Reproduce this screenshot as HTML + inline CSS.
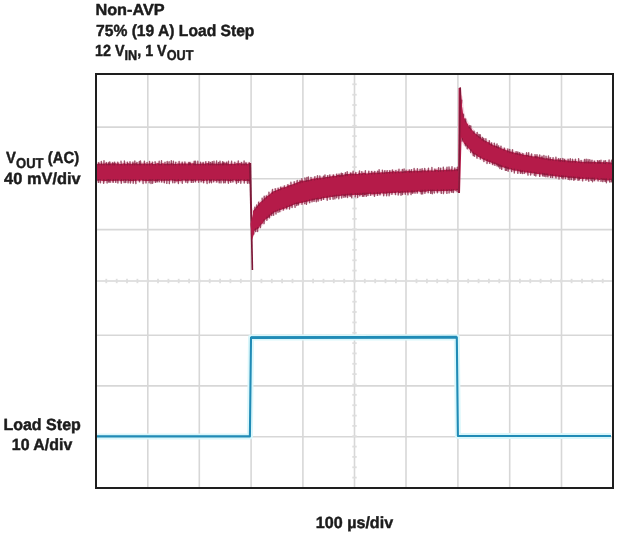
<!DOCTYPE html>
<html><head><meta charset="utf-8"><title>Non-AVP load step</title>
<style>html,body{margin:0;padding:0;background:#fff;width:618px;height:535px;overflow:hidden}svg{display:block;filter:blur(0.35px)}text{font-family:"Liberation Sans",sans-serif;font-weight:bold;text-rendering:geometricPrecision}</style>
</head><body><svg width="618" height="535" viewBox="0 0 618 535"><g stroke="#d7d7d7" stroke-width="1.6"><line x1="147.8" y1="75" x2="147.8" y2="487" /><line x1="199.3" y1="75" x2="199.3" y2="487" /><line x1="251.1" y1="75" x2="251.1" y2="487" /><line x1="302.9" y1="75" x2="302.9" y2="487" /><line x1="354.5" y1="75" x2="354.5" y2="487" /><line x1="406.0" y1="75" x2="406.0" y2="487" /><line x1="457.9" y1="75" x2="457.9" y2="487" /><line x1="509.7" y1="75" x2="509.7" y2="487" /><line x1="561.5" y1="75" x2="561.5" y2="487" /><line x1="97" y1="127.1" x2="612" y2="127.1" /><line x1="97" y1="178.7" x2="612" y2="178.7" /><line x1="97" y1="229.6" x2="612" y2="229.6" /><line x1="97" y1="281.0" x2="612" y2="281.0" /><line x1="97" y1="335.3" x2="612" y2="335.3" /><line x1="97" y1="385.9" x2="612" y2="385.9" /><line x1="97" y1="436.8" x2="612" y2="436.8" /></g><g stroke="#dedede" stroke-width="1.8"><line x1="106.3" y1="278.8" x2="106.3" y2="283.2"/><line x1="116.7" y1="278.8" x2="116.7" y2="283.2"/><line x1="127.0" y1="278.8" x2="127.0" y2="283.2"/><line x1="137.4" y1="278.8" x2="137.4" y2="283.2"/><line x1="147.7" y1="278.8" x2="147.7" y2="283.2"/><line x1="158.0" y1="278.8" x2="158.0" y2="283.2"/><line x1="168.4" y1="278.8" x2="168.4" y2="283.2"/><line x1="178.7" y1="278.8" x2="178.7" y2="283.2"/><line x1="189.1" y1="278.8" x2="189.1" y2="283.2"/><line x1="199.4" y1="278.8" x2="199.4" y2="283.2"/><line x1="209.7" y1="278.8" x2="209.7" y2="283.2"/><line x1="220.1" y1="278.8" x2="220.1" y2="283.2"/><line x1="230.4" y1="278.8" x2="230.4" y2="283.2"/><line x1="240.8" y1="278.8" x2="240.8" y2="283.2"/><line x1="251.1" y1="278.8" x2="251.1" y2="283.2"/><line x1="261.4" y1="278.8" x2="261.4" y2="283.2"/><line x1="271.8" y1="278.8" x2="271.8" y2="283.2"/><line x1="282.1" y1="278.8" x2="282.1" y2="283.2"/><line x1="292.5" y1="278.8" x2="292.5" y2="283.2"/><line x1="302.8" y1="278.8" x2="302.8" y2="283.2"/><line x1="313.1" y1="278.8" x2="313.1" y2="283.2"/><line x1="323.5" y1="278.8" x2="323.5" y2="283.2"/><line x1="333.8" y1="278.8" x2="333.8" y2="283.2"/><line x1="344.2" y1="278.8" x2="344.2" y2="283.2"/><line x1="354.5" y1="278.8" x2="354.5" y2="283.2"/><line x1="364.8" y1="278.8" x2="364.8" y2="283.2"/><line x1="375.2" y1="278.8" x2="375.2" y2="283.2"/><line x1="385.5" y1="278.8" x2="385.5" y2="283.2"/><line x1="395.9" y1="278.8" x2="395.9" y2="283.2"/><line x1="406.2" y1="278.8" x2="406.2" y2="283.2"/><line x1="416.5" y1="278.8" x2="416.5" y2="283.2"/><line x1="426.9" y1="278.8" x2="426.9" y2="283.2"/><line x1="437.2" y1="278.8" x2="437.2" y2="283.2"/><line x1="447.6" y1="278.8" x2="447.6" y2="283.2"/><line x1="457.9" y1="278.8" x2="457.9" y2="283.2"/><line x1="468.2" y1="278.8" x2="468.2" y2="283.2"/><line x1="478.6" y1="278.8" x2="478.6" y2="283.2"/><line x1="488.9" y1="278.8" x2="488.9" y2="283.2"/><line x1="499.3" y1="278.8" x2="499.3" y2="283.2"/><line x1="509.6" y1="278.8" x2="509.6" y2="283.2"/><line x1="519.9" y1="278.8" x2="519.9" y2="283.2"/><line x1="530.3" y1="278.8" x2="530.3" y2="283.2"/><line x1="540.6" y1="278.8" x2="540.6" y2="283.2"/><line x1="551.0" y1="278.8" x2="551.0" y2="283.2"/><line x1="561.3" y1="278.8" x2="561.3" y2="283.2"/><line x1="571.6" y1="278.8" x2="571.6" y2="283.2"/><line x1="582.0" y1="278.8" x2="582.0" y2="283.2"/><line x1="592.3" y1="278.8" x2="592.3" y2="283.2"/><line x1="602.7" y1="278.8" x2="602.7" y2="283.2"/><line x1="352.3" y1="84.3" x2="356.7" y2="84.3"/><line x1="352.3" y1="94.7" x2="356.7" y2="94.7"/><line x1="352.3" y1="105.0" x2="356.7" y2="105.0"/><line x1="352.3" y1="115.4" x2="356.7" y2="115.4"/><line x1="352.3" y1="125.8" x2="356.7" y2="125.8"/><line x1="352.3" y1="136.1" x2="356.7" y2="136.1"/><line x1="352.3" y1="146.4" x2="356.7" y2="146.4"/><line x1="352.3" y1="156.8" x2="356.7" y2="156.8"/><line x1="352.3" y1="167.1" x2="356.7" y2="167.1"/><line x1="352.3" y1="177.5" x2="356.7" y2="177.5"/><line x1="352.3" y1="187.8" x2="356.7" y2="187.8"/><line x1="352.3" y1="198.2" x2="356.7" y2="198.2"/><line x1="352.3" y1="208.5" x2="356.7" y2="208.5"/><line x1="352.3" y1="218.9" x2="356.7" y2="218.9"/><line x1="352.3" y1="229.2" x2="356.7" y2="229.2"/><line x1="352.3" y1="239.6" x2="356.7" y2="239.6"/><line x1="352.3" y1="249.9" x2="356.7" y2="249.9"/><line x1="352.3" y1="260.3" x2="356.7" y2="260.3"/><line x1="352.3" y1="270.6" x2="356.7" y2="270.6"/><line x1="352.3" y1="281.0" x2="356.7" y2="281.0"/><line x1="352.3" y1="291.4" x2="356.7" y2="291.4"/><line x1="352.3" y1="301.7" x2="356.7" y2="301.7"/><line x1="352.3" y1="312.0" x2="356.7" y2="312.0"/><line x1="352.3" y1="322.4" x2="356.7" y2="322.4"/><line x1="352.3" y1="332.8" x2="356.7" y2="332.8"/><line x1="352.3" y1="343.1" x2="356.7" y2="343.1"/><line x1="352.3" y1="353.4" x2="356.7" y2="353.4"/><line x1="352.3" y1="363.8" x2="356.7" y2="363.8"/><line x1="352.3" y1="374.1" x2="356.7" y2="374.1"/><line x1="352.3" y1="384.5" x2="356.7" y2="384.5"/><line x1="352.3" y1="394.8" x2="356.7" y2="394.8"/><line x1="352.3" y1="405.2" x2="356.7" y2="405.2"/><line x1="352.3" y1="415.6" x2="356.7" y2="415.6"/><line x1="352.3" y1="425.9" x2="356.7" y2="425.9"/><line x1="352.3" y1="436.2" x2="356.7" y2="436.2"/><line x1="352.3" y1="446.6" x2="356.7" y2="446.6"/><line x1="352.3" y1="456.9" x2="356.7" y2="456.9"/><line x1="352.3" y1="467.3" x2="356.7" y2="467.3"/><line x1="352.3" y1="477.6" x2="356.7" y2="477.6"/></g><g fill="#f6d8e2" stroke="#f6d8e2" stroke-width="3.2" stroke-linejoin="round"><path d="M97.0 163.5L98.0 164.0L99.0 163.1L100.0 163.9L101.0 163.3L102.0 163.4L103.0 163.8L104.0 163.4L105.0 163.5L106.0 163.0L107.0 163.8L108.0 163.5L109.0 163.3L110.0 163.8L111.0 163.3L112.0 163.5L113.0 163.1L114.0 163.4L115.0 163.2L116.0 163.3L117.0 163.8L118.0 163.3L119.0 163.5L120.0 164.0L121.0 164.0L122.0 163.7L123.0 163.5L124.0 163.3L125.0 163.2L126.0 164.0L127.0 163.5L128.0 163.1L129.0 163.6L130.0 163.8L131.0 163.6L132.0 163.9L133.0 163.0L134.0 163.5L135.0 163.5L136.0 163.1L137.0 163.6L138.0 163.9L139.0 163.6L140.0 163.3L141.0 163.8L142.0 163.5L143.0 163.5L144.0 163.8L145.0 163.1L146.0 163.8L147.0 163.7L148.0 163.8L149.0 163.2L150.0 163.8L151.0 163.2L152.0 163.1L153.0 163.9L154.0 163.9L155.0 163.9L156.0 163.5L157.0 163.3L158.0 163.0L159.0 163.6L160.0 163.7L161.0 163.8L162.0 163.3L163.0 163.2L164.0 163.6L165.0 163.8L166.0 164.0L167.0 163.2L168.0 163.5L169.0 163.9L170.0 163.4L171.0 163.6L172.0 163.0L173.0 163.7L174.0 163.9L175.0 163.8L176.0 163.9L177.0 163.7L178.0 163.2L179.0 163.8L180.0 163.2L181.0 163.8L182.0 163.1L183.0 163.8L184.0 163.2L185.0 163.4L186.0 163.3L187.0 163.7L188.0 163.2L189.0 163.4L190.0 163.0L191.0 163.3L192.0 163.4L193.0 163.1L194.0 163.6L195.0 163.4L196.0 163.7L197.0 163.7L198.0 163.4L199.0 163.9L200.0 163.6L201.0 163.8L202.0 163.3L203.0 163.5L204.0 163.2L205.0 164.0L206.0 163.2L207.0 163.3L208.0 163.1L209.0 163.3L210.0 163.8L211.0 163.7L212.0 163.1L213.0 163.4L214.0 163.4L215.0 163.7L216.0 163.5L217.0 163.6L218.0 163.8L219.0 163.7L220.0 163.4L221.0 163.4L222.0 163.4L223.0 163.1L224.0 163.2L225.0 163.3L226.0 163.3L227.0 163.3L228.0 163.6L229.0 164.0L230.0 163.8L231.0 163.8L232.0 163.8L233.0 163.6L234.0 163.9L235.0 163.7L236.0 163.5L237.0 163.1L238.0 163.5L239.0 163.2L240.0 163.1L241.0 163.5L242.0 163.8L243.0 163.3L244.0 163.8L245.0 163.5L246.0 163.1L247.0 164.0L248.0 163.4L249.0 163.3L250.0 163.8L250.0 180.9L249.0 181.4L248.0 181.0L247.0 180.8L246.0 180.9L245.0 181.0L244.0 181.0L243.0 180.7L242.0 180.6L241.0 180.5L240.0 181.2L239.0 180.7L238.0 181.3L237.0 181.0L236.0 181.4L235.0 180.5L234.0 180.4L233.0 180.6L232.0 181.1L231.0 181.1L230.0 181.3L229.0 181.2L228.0 181.2L227.0 180.4L226.0 181.0L225.0 181.0L224.0 180.5L223.0 180.9L222.0 180.5L221.0 180.5L220.0 181.0L219.0 181.3L218.0 180.5L217.0 180.8L216.0 181.3L215.0 180.7L214.0 180.8L213.0 180.5L212.0 180.7L211.0 181.2L210.0 181.4L209.0 180.5L208.0 180.5L207.0 181.2L206.0 180.4L205.0 180.7L204.0 181.3L203.0 180.9L202.0 180.8L201.0 180.6L200.0 180.5L199.0 180.4L198.0 180.8L197.0 180.6L196.0 181.1L195.0 180.8L194.0 180.4L193.0 181.0L192.0 181.1L191.0 181.1L190.0 180.5L189.0 180.7L188.0 180.7L187.0 180.7L186.0 181.0L185.0 180.5L184.0 180.8L183.0 180.5L182.0 180.4L181.0 181.3L180.0 181.2L179.0 181.1L178.0 181.2L177.0 181.4L176.0 181.4L175.0 180.9L174.0 180.9L173.0 180.6L172.0 180.6L171.0 180.4L170.0 180.5L169.0 180.7L168.0 181.1L167.0 180.5L166.0 180.9L165.0 180.6L164.0 181.4L163.0 180.6L162.0 181.0L161.0 181.1L160.0 180.6L159.0 180.4L158.0 181.0L157.0 180.9L156.0 181.2L155.0 180.9L154.0 181.4L153.0 180.5L152.0 180.7L151.0 181.2L150.0 180.7L149.0 181.0L148.0 181.1L147.0 181.3L146.0 181.0L145.0 181.2L144.0 180.8L143.0 181.0L142.0 180.6L141.0 180.5L140.0 180.9L139.0 180.8L138.0 180.8L137.0 180.4L136.0 181.2L135.0 180.8L134.0 181.0L133.0 181.2L132.0 181.0L131.0 181.2L130.0 180.7L129.0 181.4L128.0 180.7L127.0 180.4L126.0 181.3L125.0 180.6L124.0 180.8L123.0 181.1L122.0 180.7L121.0 181.4L120.0 180.9L119.0 180.4L118.0 180.9L117.0 180.8L116.0 180.8L115.0 181.0L114.0 180.8L113.0 181.2L112.0 181.4L111.0 180.6L110.0 181.3L109.0 180.8L108.0 180.7L107.0 180.9L106.0 181.1L105.0 181.0L104.0 181.4L103.0 180.8L102.0 181.2L101.0 180.6L100.0 180.8L99.0 180.6L98.0 181.1L97.0 180.5Z"/><path d="M253.0 211.1L254.0 209.8L255.0 209.0L256.0 207.0L257.0 206.2L258.0 205.0L259.0 203.5L260.0 202.4L261.0 201.6L262.0 201.0L263.0 199.9L264.0 198.5L265.0 197.7L266.0 197.2L267.0 196.1L268.0 195.5L269.0 195.1L270.0 194.0L271.0 192.9L272.0 191.9L273.0 191.4L274.0 191.1L275.0 191.0L276.0 190.4L277.0 189.5L278.0 189.7L279.0 188.9L280.0 188.8L281.0 187.8L282.0 187.5L283.0 187.2L284.0 187.5L285.0 186.9L286.0 186.8L287.0 186.2L288.0 185.6L289.0 185.3L290.0 185.0L291.0 184.9L292.0 184.2L293.0 184.2L294.0 183.6L295.0 183.5L296.0 182.8L297.0 182.7L298.0 182.0L299.0 181.8L300.0 181.2L301.0 180.7L302.0 180.3L303.0 180.8L304.0 180.4L305.0 180.7L306.0 180.4L307.0 179.8L308.0 180.2L309.0 179.7L310.0 179.7L311.0 179.1L312.0 178.7L313.0 178.6L314.0 178.4L315.0 178.7L316.0 178.0L317.0 177.8L318.0 178.5L319.0 177.6L320.0 177.8L321.0 177.7L322.0 177.6L323.0 177.4L324.0 177.7L325.0 177.3L326.0 177.0L327.0 176.9L328.0 176.6L329.0 176.9L330.0 176.0L331.0 176.4L332.0 176.1L333.0 175.5L334.0 175.6L335.0 176.1L336.0 175.9L337.0 175.0L338.0 175.1L339.0 174.7L340.0 175.4L341.0 174.6L342.0 174.4L343.0 175.2L344.0 174.6L345.0 174.3L346.0 173.9L347.0 174.1L348.0 174.0L349.0 174.0L350.0 173.4L351.0 173.5L352.0 173.5L353.0 173.7L354.0 173.5L355.0 173.7L356.0 173.4L357.0 173.9L358.0 173.9L359.0 173.0L360.0 173.1L361.0 173.4L362.0 173.5L363.0 172.8L364.0 172.8L365.0 173.0L366.0 173.2L367.0 173.4L368.0 173.3L369.0 173.2L370.0 172.4L371.0 173.2L372.0 172.8L373.0 172.2L374.0 172.4L375.0 172.7L376.0 172.4L377.0 172.4L378.0 172.7L379.0 172.7L380.0 172.3L381.0 172.5L382.0 172.1L383.0 172.6L384.0 172.2L385.0 172.5L386.0 171.5L387.0 172.3L388.0 171.9L389.0 172.0L390.0 171.4L391.0 171.8L392.0 171.5L393.0 171.2L394.0 171.1L395.0 172.0L396.0 171.7L397.0 171.2L398.0 171.2L399.0 171.4L400.0 171.7L401.0 170.9L402.0 171.8L403.0 171.7L404.0 171.0L405.0 171.3L406.0 171.0L407.0 171.3L408.0 170.6L409.0 171.0L410.0 171.1L411.0 171.1L412.0 171.1L413.0 171.3L414.0 170.6L415.0 170.4L416.0 170.6L417.0 170.8L418.0 171.1L419.0 170.8L420.0 170.8L421.0 171.0L422.0 170.3L423.0 170.2L424.0 170.4L425.0 170.2L426.0 170.5L427.0 170.8L428.0 169.9L429.0 170.3L430.0 170.4L431.0 170.2L432.0 170.6L433.0 170.4L434.0 170.5L435.0 169.7L436.0 169.7L437.0 169.6L438.0 170.3L439.0 170.4L440.0 169.4L441.0 170.2L442.0 170.1L443.0 170.2L444.0 169.5L445.0 170.0L446.0 169.4L447.0 169.2L448.0 169.9L449.0 169.2L450.0 169.8L451.0 169.3L452.0 169.5L453.0 169.9L454.0 169.2L455.0 169.4L456.0 169.2L457.0 169.0L458.0 169.3L458.5 169.0L458.5 190.9L458.0 190.3L457.0 190.3L456.0 191.0L455.0 190.6L454.0 190.4L453.0 190.5L452.0 190.9L451.0 191.4L450.0 190.9L449.0 190.5L448.0 191.1L447.0 191.1L446.0 191.2L445.0 190.8L444.0 191.5L443.0 190.9L442.0 191.1L441.0 191.0L440.0 191.5L439.0 190.9L438.0 191.5L437.0 191.6L436.0 191.3L435.0 190.9L434.0 191.3L433.0 191.0L432.0 191.0L431.0 191.7L430.0 190.9L429.0 191.1L428.0 190.9L427.0 191.6L426.0 191.7L425.0 192.0L424.0 191.5L423.0 191.7L422.0 192.0L421.0 192.2L420.0 192.1L419.0 191.6L418.0 191.6L417.0 192.3L416.0 191.7L415.0 191.8L414.0 192.5L413.0 192.5L412.0 192.5L411.0 192.4L410.0 192.5L409.0 192.5L408.0 192.7L407.0 192.2L406.0 192.9L405.0 192.4L404.0 192.6L403.0 192.9L402.0 192.5L401.0 192.7L400.0 193.0L399.0 193.2L398.0 192.6L397.0 192.6L396.0 193.1L395.0 192.9L394.0 192.9L393.0 192.8L392.0 193.3L391.0 192.9L390.0 193.5L389.0 193.4L388.0 193.0L387.0 193.8L386.0 193.4L385.0 193.9L384.0 193.2L383.0 193.9L382.0 193.3L381.0 193.6L380.0 194.2L379.0 193.7L378.0 194.2L377.0 193.7L376.0 194.2L375.0 194.4L374.0 194.2L373.0 194.4L372.0 194.5L371.0 194.2L370.0 193.8L369.0 194.1L368.0 194.2L367.0 194.3L366.0 194.8L365.0 194.9L364.0 194.9L363.0 194.2L362.0 194.9L361.0 195.1L360.0 194.7L359.0 194.9L358.0 194.9L357.0 195.1L356.0 194.9L355.0 194.8L354.0 195.1L353.0 195.2L352.0 195.1L351.0 195.6L350.0 195.6L349.0 195.4L348.0 195.6L347.0 195.4L346.0 195.5L345.0 195.9L344.0 196.1L343.0 195.5L342.0 195.7L341.0 195.8L340.0 196.2L339.0 195.9L338.0 196.6L337.0 196.3L336.0 196.2L335.0 196.7L334.0 196.6L333.0 197.1L332.0 196.9L331.0 197.0L330.0 196.8L329.0 197.8L328.0 197.4L327.0 198.2L326.0 197.7L325.0 198.1L324.0 198.1L323.0 198.5L322.0 198.2L321.0 199.2L320.0 198.9L319.0 199.6L318.0 199.7L317.0 199.4L316.0 199.3L315.0 199.7L314.0 200.3L313.0 200.2L312.0 200.8L311.0 200.4L310.0 200.9L309.0 201.0L308.0 201.8L307.0 201.5L306.0 201.9L305.0 202.1L304.0 202.1L303.0 203.0L302.0 202.8L301.0 203.1L300.0 203.2L299.0 203.6L298.0 204.2L297.0 203.9L296.0 204.0L295.0 204.2L294.0 204.7L293.0 204.9L292.0 205.8L291.0 206.5L290.0 206.2L289.0 207.0L288.0 207.1L287.0 208.1L286.0 208.2L285.0 208.4L284.0 208.9L283.0 209.0L282.0 209.6L281.0 210.1L280.0 209.9L279.0 210.4L278.0 210.8L277.0 211.4L276.0 211.7L275.0 212.1L274.0 212.7L273.0 213.4L272.0 214.2L271.0 214.7L270.0 216.4L269.0 217.2L268.0 218.1L267.0 218.6L266.0 219.3L265.0 219.9L264.0 221.1L263.0 223.1L262.0 224.2L261.0 224.6L260.0 226.0L259.0 227.7L258.0 228.9L257.0 229.1L256.0 230.4L255.0 230.3L254.0 231.2L253.0 232.0Z"/><path d="M461.0 96.9L462.0 106.4L463.0 113.5L464.0 117.2L465.0 119.1L466.0 121.1L467.0 122.9L468.0 124.3L469.0 126.5L470.0 127.1L471.0 128.5L472.0 129.8L473.0 130.9L474.0 132.1L475.0 133.1L476.0 134.1L477.0 134.2L478.0 135.4L479.0 136.3L480.0 136.7L481.0 137.2L482.0 139.0L483.0 139.1L484.0 139.7L485.0 140.8L486.0 141.0L487.0 141.5L488.0 142.3L489.0 142.1L490.0 143.4L491.0 143.6L492.0 143.9L493.0 144.9L494.0 145.6L495.0 145.2L496.0 146.0L497.0 146.1L498.0 146.9L499.0 147.3L500.0 147.2L501.0 148.2L502.0 148.4L503.0 148.8L504.0 149.3L505.0 149.3L506.0 150.0L507.0 150.5L508.0 150.1L509.0 151.3L510.0 151.2L511.0 151.7L512.0 151.6L513.0 152.3L514.0 152.2L515.0 153.0L516.0 152.6L517.0 153.1L518.0 153.2L519.0 153.6L520.0 153.4L521.0 153.6L522.0 154.3L523.0 154.5L524.0 154.5L525.0 155.0L526.0 154.5L527.0 155.3L528.0 154.8L529.0 155.7L530.0 155.6L531.0 155.7L532.0 156.3L533.0 156.2L534.0 156.4L535.0 155.9L536.0 156.3L537.0 156.2L538.0 156.5L539.0 156.7L540.0 157.5L541.0 156.9L542.0 157.3L543.0 157.6L544.0 158.1L545.0 158.4L546.0 158.3L547.0 158.0L548.0 158.5L549.0 158.8L550.0 158.4L551.0 159.1L552.0 158.9L553.0 159.2L554.0 159.4L555.0 159.5L556.0 159.4L557.0 159.6L558.0 159.3L559.0 159.7L560.0 159.4L561.0 159.9L562.0 160.0L563.0 160.4L564.0 160.1L565.0 159.8L566.0 160.4L567.0 160.2L568.0 160.8L569.0 160.6L570.0 160.7L571.0 161.3L572.0 160.8L573.0 160.8L574.0 160.8L575.0 161.0L576.0 160.7L577.0 161.2L578.0 161.6L579.0 161.3L580.0 161.5L581.0 161.8L582.0 161.7L583.0 161.7L584.0 161.8L585.0 161.9L586.0 161.4L587.0 161.6L588.0 161.5L589.0 161.5L590.0 161.9L591.0 161.6L592.0 162.0L593.0 162.0L594.0 161.5L595.0 161.9L596.0 161.9L597.0 162.2L598.0 161.6L599.0 161.8L600.0 162.1L601.0 162.1L602.0 162.3L603.0 162.0L604.0 161.9L605.0 162.7L606.0 162.1L607.0 162.0L608.0 162.2L609.0 162.2L610.0 162.2L611.0 162.5L612.0 162.9L612.0 181.0L611.0 180.1L610.0 180.1L609.0 180.4L608.0 180.5L607.0 180.4L606.0 180.5L605.0 180.3L604.0 180.1L603.0 180.4L602.0 179.7L601.0 179.5L600.0 180.1L599.0 180.1L598.0 179.7L597.0 179.6L596.0 179.6L595.0 180.0L594.0 179.8L593.0 179.1L592.0 179.0L591.0 179.2L590.0 179.5L589.0 178.8L588.0 179.6L587.0 179.5L586.0 179.0L585.0 178.7L584.0 179.0L583.0 179.0L582.0 178.8L581.0 179.1L580.0 179.0L579.0 178.9L578.0 178.5L577.0 178.8L576.0 178.1L575.0 178.6L574.0 178.2L573.0 178.3L572.0 177.8L571.0 177.8L570.0 177.7L569.0 178.4L568.0 178.1L567.0 177.2L566.0 177.2L565.0 177.1L564.0 177.7L563.0 177.1L562.0 176.9L561.0 177.0L560.0 177.0L559.0 176.8L558.0 176.8L557.0 176.4L556.0 176.6L555.0 176.4L554.0 176.1L553.0 176.3L552.0 176.1L551.0 175.7L550.0 175.4L549.0 176.0L548.0 175.6L547.0 174.9L546.0 175.5L545.0 175.4L544.0 175.0L543.0 174.4L542.0 174.7L541.0 174.2L540.0 174.8L539.0 174.0L538.0 174.2L537.0 173.9L536.0 173.8L535.0 174.0L534.0 173.1L533.0 173.6L532.0 173.4L531.0 173.1L530.0 172.7L529.0 173.0L528.0 172.6L527.0 172.4L526.0 172.4L525.0 172.7L524.0 171.8L523.0 171.7L522.0 172.4L521.0 172.2L520.0 172.0L519.0 171.0L518.0 171.4L517.0 170.8L516.0 170.7L515.0 170.7L514.0 170.5L513.0 170.5L512.0 169.9L511.0 169.2L510.0 169.4L509.0 169.4L508.0 168.9L507.0 168.7L506.0 168.0L505.0 168.1L504.0 167.7L503.0 167.3L502.0 167.2L501.0 167.0L500.0 166.4L499.0 165.9L498.0 165.6L497.0 165.3L496.0 164.5L495.0 163.7L494.0 164.3L493.0 163.5L492.0 163.4L491.0 162.6L490.0 161.9L489.0 161.9L488.0 161.8L487.0 161.1L486.0 160.9L485.0 160.2L484.0 159.7L483.0 159.7L482.0 158.7L481.0 158.3L480.0 158.0L479.0 157.0L478.0 157.0L477.0 156.0L476.0 155.1L475.0 154.4L474.0 154.4L473.0 153.9L472.0 152.6L471.0 150.9L470.0 150.3L469.0 148.7L468.0 148.3L467.0 146.8L466.0 145.2L465.0 144.8L464.0 143.4L463.0 141.4L462.0 139.4L461.0 137.3Z"/></g><g fill="#b51b49"><path d="M97.0 163.5L98.0 164.0L99.0 163.1L100.0 163.9L101.0 163.3L102.0 163.4L103.0 163.8L104.0 163.4L105.0 163.5L106.0 163.0L107.0 163.8L108.0 163.5L109.0 163.3L110.0 163.8L111.0 163.3L112.0 163.5L113.0 163.1L114.0 163.4L115.0 163.2L116.0 163.3L117.0 163.8L118.0 163.3L119.0 163.5L120.0 164.0L121.0 164.0L122.0 163.7L123.0 163.5L124.0 163.3L125.0 163.2L126.0 164.0L127.0 163.5L128.0 163.1L129.0 163.6L130.0 163.8L131.0 163.6L132.0 163.9L133.0 163.0L134.0 163.5L135.0 163.5L136.0 163.1L137.0 163.6L138.0 163.9L139.0 163.6L140.0 163.3L141.0 163.8L142.0 163.5L143.0 163.5L144.0 163.8L145.0 163.1L146.0 163.8L147.0 163.7L148.0 163.8L149.0 163.2L150.0 163.8L151.0 163.2L152.0 163.1L153.0 163.9L154.0 163.9L155.0 163.9L156.0 163.5L157.0 163.3L158.0 163.0L159.0 163.6L160.0 163.7L161.0 163.8L162.0 163.3L163.0 163.2L164.0 163.6L165.0 163.8L166.0 164.0L167.0 163.2L168.0 163.5L169.0 163.9L170.0 163.4L171.0 163.6L172.0 163.0L173.0 163.7L174.0 163.9L175.0 163.8L176.0 163.9L177.0 163.7L178.0 163.2L179.0 163.8L180.0 163.2L181.0 163.8L182.0 163.1L183.0 163.8L184.0 163.2L185.0 163.4L186.0 163.3L187.0 163.7L188.0 163.2L189.0 163.4L190.0 163.0L191.0 163.3L192.0 163.4L193.0 163.1L194.0 163.6L195.0 163.4L196.0 163.7L197.0 163.7L198.0 163.4L199.0 163.9L200.0 163.6L201.0 163.8L202.0 163.3L203.0 163.5L204.0 163.2L205.0 164.0L206.0 163.2L207.0 163.3L208.0 163.1L209.0 163.3L210.0 163.8L211.0 163.7L212.0 163.1L213.0 163.4L214.0 163.4L215.0 163.7L216.0 163.5L217.0 163.6L218.0 163.8L219.0 163.7L220.0 163.4L221.0 163.4L222.0 163.4L223.0 163.1L224.0 163.2L225.0 163.3L226.0 163.3L227.0 163.3L228.0 163.6L229.0 164.0L230.0 163.8L231.0 163.8L232.0 163.8L233.0 163.6L234.0 163.9L235.0 163.7L236.0 163.5L237.0 163.1L238.0 163.5L239.0 163.2L240.0 163.1L241.0 163.5L242.0 163.8L243.0 163.3L244.0 163.8L245.0 163.5L246.0 163.1L247.0 164.0L248.0 163.4L249.0 163.3L250.0 163.8L250.0 180.9L249.0 181.4L248.0 181.0L247.0 180.8L246.0 180.9L245.0 181.0L244.0 181.0L243.0 180.7L242.0 180.6L241.0 180.5L240.0 181.2L239.0 180.7L238.0 181.3L237.0 181.0L236.0 181.4L235.0 180.5L234.0 180.4L233.0 180.6L232.0 181.1L231.0 181.1L230.0 181.3L229.0 181.2L228.0 181.2L227.0 180.4L226.0 181.0L225.0 181.0L224.0 180.5L223.0 180.9L222.0 180.5L221.0 180.5L220.0 181.0L219.0 181.3L218.0 180.5L217.0 180.8L216.0 181.3L215.0 180.7L214.0 180.8L213.0 180.5L212.0 180.7L211.0 181.2L210.0 181.4L209.0 180.5L208.0 180.5L207.0 181.2L206.0 180.4L205.0 180.7L204.0 181.3L203.0 180.9L202.0 180.8L201.0 180.6L200.0 180.5L199.0 180.4L198.0 180.8L197.0 180.6L196.0 181.1L195.0 180.8L194.0 180.4L193.0 181.0L192.0 181.1L191.0 181.1L190.0 180.5L189.0 180.7L188.0 180.7L187.0 180.7L186.0 181.0L185.0 180.5L184.0 180.8L183.0 180.5L182.0 180.4L181.0 181.3L180.0 181.2L179.0 181.1L178.0 181.2L177.0 181.4L176.0 181.4L175.0 180.9L174.0 180.9L173.0 180.6L172.0 180.6L171.0 180.4L170.0 180.5L169.0 180.7L168.0 181.1L167.0 180.5L166.0 180.9L165.0 180.6L164.0 181.4L163.0 180.6L162.0 181.0L161.0 181.1L160.0 180.6L159.0 180.4L158.0 181.0L157.0 180.9L156.0 181.2L155.0 180.9L154.0 181.4L153.0 180.5L152.0 180.7L151.0 181.2L150.0 180.7L149.0 181.0L148.0 181.1L147.0 181.3L146.0 181.0L145.0 181.2L144.0 180.8L143.0 181.0L142.0 180.6L141.0 180.5L140.0 180.9L139.0 180.8L138.0 180.8L137.0 180.4L136.0 181.2L135.0 180.8L134.0 181.0L133.0 181.2L132.0 181.0L131.0 181.2L130.0 180.7L129.0 181.4L128.0 180.7L127.0 180.4L126.0 181.3L125.0 180.6L124.0 180.8L123.0 181.1L122.0 180.7L121.0 181.4L120.0 180.9L119.0 180.4L118.0 180.9L117.0 180.8L116.0 180.8L115.0 181.0L114.0 180.8L113.0 181.2L112.0 181.4L111.0 180.6L110.0 181.3L109.0 180.8L108.0 180.7L107.0 180.9L106.0 181.1L105.0 181.0L104.0 181.4L103.0 180.8L102.0 181.2L101.0 180.6L100.0 180.8L99.0 180.6L98.0 181.1L97.0 180.5Z"/><path d="M253.0 211.1L254.0 209.8L255.0 209.0L256.0 207.0L257.0 206.2L258.0 205.0L259.0 203.5L260.0 202.4L261.0 201.6L262.0 201.0L263.0 199.9L264.0 198.5L265.0 197.7L266.0 197.2L267.0 196.1L268.0 195.5L269.0 195.1L270.0 194.0L271.0 192.9L272.0 191.9L273.0 191.4L274.0 191.1L275.0 191.0L276.0 190.4L277.0 189.5L278.0 189.7L279.0 188.9L280.0 188.8L281.0 187.8L282.0 187.5L283.0 187.2L284.0 187.5L285.0 186.9L286.0 186.8L287.0 186.2L288.0 185.6L289.0 185.3L290.0 185.0L291.0 184.9L292.0 184.2L293.0 184.2L294.0 183.6L295.0 183.5L296.0 182.8L297.0 182.7L298.0 182.0L299.0 181.8L300.0 181.2L301.0 180.7L302.0 180.3L303.0 180.8L304.0 180.4L305.0 180.7L306.0 180.4L307.0 179.8L308.0 180.2L309.0 179.7L310.0 179.7L311.0 179.1L312.0 178.7L313.0 178.6L314.0 178.4L315.0 178.7L316.0 178.0L317.0 177.8L318.0 178.5L319.0 177.6L320.0 177.8L321.0 177.7L322.0 177.6L323.0 177.4L324.0 177.7L325.0 177.3L326.0 177.0L327.0 176.9L328.0 176.6L329.0 176.9L330.0 176.0L331.0 176.4L332.0 176.1L333.0 175.5L334.0 175.6L335.0 176.1L336.0 175.9L337.0 175.0L338.0 175.1L339.0 174.7L340.0 175.4L341.0 174.6L342.0 174.4L343.0 175.2L344.0 174.6L345.0 174.3L346.0 173.9L347.0 174.1L348.0 174.0L349.0 174.0L350.0 173.4L351.0 173.5L352.0 173.5L353.0 173.7L354.0 173.5L355.0 173.7L356.0 173.4L357.0 173.9L358.0 173.9L359.0 173.0L360.0 173.1L361.0 173.4L362.0 173.5L363.0 172.8L364.0 172.8L365.0 173.0L366.0 173.2L367.0 173.4L368.0 173.3L369.0 173.2L370.0 172.4L371.0 173.2L372.0 172.8L373.0 172.2L374.0 172.4L375.0 172.7L376.0 172.4L377.0 172.4L378.0 172.7L379.0 172.7L380.0 172.3L381.0 172.5L382.0 172.1L383.0 172.6L384.0 172.2L385.0 172.5L386.0 171.5L387.0 172.3L388.0 171.9L389.0 172.0L390.0 171.4L391.0 171.8L392.0 171.5L393.0 171.2L394.0 171.1L395.0 172.0L396.0 171.7L397.0 171.2L398.0 171.2L399.0 171.4L400.0 171.7L401.0 170.9L402.0 171.8L403.0 171.7L404.0 171.0L405.0 171.3L406.0 171.0L407.0 171.3L408.0 170.6L409.0 171.0L410.0 171.1L411.0 171.1L412.0 171.1L413.0 171.3L414.0 170.6L415.0 170.4L416.0 170.6L417.0 170.8L418.0 171.1L419.0 170.8L420.0 170.8L421.0 171.0L422.0 170.3L423.0 170.2L424.0 170.4L425.0 170.2L426.0 170.5L427.0 170.8L428.0 169.9L429.0 170.3L430.0 170.4L431.0 170.2L432.0 170.6L433.0 170.4L434.0 170.5L435.0 169.7L436.0 169.7L437.0 169.6L438.0 170.3L439.0 170.4L440.0 169.4L441.0 170.2L442.0 170.1L443.0 170.2L444.0 169.5L445.0 170.0L446.0 169.4L447.0 169.2L448.0 169.9L449.0 169.2L450.0 169.8L451.0 169.3L452.0 169.5L453.0 169.9L454.0 169.2L455.0 169.4L456.0 169.2L457.0 169.0L458.0 169.3L458.5 169.0L458.5 190.9L458.0 190.3L457.0 190.3L456.0 191.0L455.0 190.6L454.0 190.4L453.0 190.5L452.0 190.9L451.0 191.4L450.0 190.9L449.0 190.5L448.0 191.1L447.0 191.1L446.0 191.2L445.0 190.8L444.0 191.5L443.0 190.9L442.0 191.1L441.0 191.0L440.0 191.5L439.0 190.9L438.0 191.5L437.0 191.6L436.0 191.3L435.0 190.9L434.0 191.3L433.0 191.0L432.0 191.0L431.0 191.7L430.0 190.9L429.0 191.1L428.0 190.9L427.0 191.6L426.0 191.7L425.0 192.0L424.0 191.5L423.0 191.7L422.0 192.0L421.0 192.2L420.0 192.1L419.0 191.6L418.0 191.6L417.0 192.3L416.0 191.7L415.0 191.8L414.0 192.5L413.0 192.5L412.0 192.5L411.0 192.4L410.0 192.5L409.0 192.5L408.0 192.7L407.0 192.2L406.0 192.9L405.0 192.4L404.0 192.6L403.0 192.9L402.0 192.5L401.0 192.7L400.0 193.0L399.0 193.2L398.0 192.6L397.0 192.6L396.0 193.1L395.0 192.9L394.0 192.9L393.0 192.8L392.0 193.3L391.0 192.9L390.0 193.5L389.0 193.4L388.0 193.0L387.0 193.8L386.0 193.4L385.0 193.9L384.0 193.2L383.0 193.9L382.0 193.3L381.0 193.6L380.0 194.2L379.0 193.7L378.0 194.2L377.0 193.7L376.0 194.2L375.0 194.4L374.0 194.2L373.0 194.4L372.0 194.5L371.0 194.2L370.0 193.8L369.0 194.1L368.0 194.2L367.0 194.3L366.0 194.8L365.0 194.9L364.0 194.9L363.0 194.2L362.0 194.9L361.0 195.1L360.0 194.7L359.0 194.9L358.0 194.9L357.0 195.1L356.0 194.9L355.0 194.8L354.0 195.1L353.0 195.2L352.0 195.1L351.0 195.6L350.0 195.6L349.0 195.4L348.0 195.6L347.0 195.4L346.0 195.5L345.0 195.9L344.0 196.1L343.0 195.5L342.0 195.7L341.0 195.8L340.0 196.2L339.0 195.9L338.0 196.6L337.0 196.3L336.0 196.2L335.0 196.7L334.0 196.6L333.0 197.1L332.0 196.9L331.0 197.0L330.0 196.8L329.0 197.8L328.0 197.4L327.0 198.2L326.0 197.7L325.0 198.1L324.0 198.1L323.0 198.5L322.0 198.2L321.0 199.2L320.0 198.9L319.0 199.6L318.0 199.7L317.0 199.4L316.0 199.3L315.0 199.7L314.0 200.3L313.0 200.2L312.0 200.8L311.0 200.4L310.0 200.9L309.0 201.0L308.0 201.8L307.0 201.5L306.0 201.9L305.0 202.1L304.0 202.1L303.0 203.0L302.0 202.8L301.0 203.1L300.0 203.2L299.0 203.6L298.0 204.2L297.0 203.9L296.0 204.0L295.0 204.2L294.0 204.7L293.0 204.9L292.0 205.8L291.0 206.5L290.0 206.2L289.0 207.0L288.0 207.1L287.0 208.1L286.0 208.2L285.0 208.4L284.0 208.9L283.0 209.0L282.0 209.6L281.0 210.1L280.0 209.9L279.0 210.4L278.0 210.8L277.0 211.4L276.0 211.7L275.0 212.1L274.0 212.7L273.0 213.4L272.0 214.2L271.0 214.7L270.0 216.4L269.0 217.2L268.0 218.1L267.0 218.6L266.0 219.3L265.0 219.9L264.0 221.1L263.0 223.1L262.0 224.2L261.0 224.6L260.0 226.0L259.0 227.7L258.0 228.9L257.0 229.1L256.0 230.4L255.0 230.3L254.0 231.2L253.0 232.0Z"/><path d="M461.0 96.9L462.0 106.4L463.0 113.5L464.0 117.2L465.0 119.1L466.0 121.1L467.0 122.9L468.0 124.3L469.0 126.5L470.0 127.1L471.0 128.5L472.0 129.8L473.0 130.9L474.0 132.1L475.0 133.1L476.0 134.1L477.0 134.2L478.0 135.4L479.0 136.3L480.0 136.7L481.0 137.2L482.0 139.0L483.0 139.1L484.0 139.7L485.0 140.8L486.0 141.0L487.0 141.5L488.0 142.3L489.0 142.1L490.0 143.4L491.0 143.6L492.0 143.9L493.0 144.9L494.0 145.6L495.0 145.2L496.0 146.0L497.0 146.1L498.0 146.9L499.0 147.3L500.0 147.2L501.0 148.2L502.0 148.4L503.0 148.8L504.0 149.3L505.0 149.3L506.0 150.0L507.0 150.5L508.0 150.1L509.0 151.3L510.0 151.2L511.0 151.7L512.0 151.6L513.0 152.3L514.0 152.2L515.0 153.0L516.0 152.6L517.0 153.1L518.0 153.2L519.0 153.6L520.0 153.4L521.0 153.6L522.0 154.3L523.0 154.5L524.0 154.5L525.0 155.0L526.0 154.5L527.0 155.3L528.0 154.8L529.0 155.7L530.0 155.6L531.0 155.7L532.0 156.3L533.0 156.2L534.0 156.4L535.0 155.9L536.0 156.3L537.0 156.2L538.0 156.5L539.0 156.7L540.0 157.5L541.0 156.9L542.0 157.3L543.0 157.6L544.0 158.1L545.0 158.4L546.0 158.3L547.0 158.0L548.0 158.5L549.0 158.8L550.0 158.4L551.0 159.1L552.0 158.9L553.0 159.2L554.0 159.4L555.0 159.5L556.0 159.4L557.0 159.6L558.0 159.3L559.0 159.7L560.0 159.4L561.0 159.9L562.0 160.0L563.0 160.4L564.0 160.1L565.0 159.8L566.0 160.4L567.0 160.2L568.0 160.8L569.0 160.6L570.0 160.7L571.0 161.3L572.0 160.8L573.0 160.8L574.0 160.8L575.0 161.0L576.0 160.7L577.0 161.2L578.0 161.6L579.0 161.3L580.0 161.5L581.0 161.8L582.0 161.7L583.0 161.7L584.0 161.8L585.0 161.9L586.0 161.4L587.0 161.6L588.0 161.5L589.0 161.5L590.0 161.9L591.0 161.6L592.0 162.0L593.0 162.0L594.0 161.5L595.0 161.9L596.0 161.9L597.0 162.2L598.0 161.6L599.0 161.8L600.0 162.1L601.0 162.1L602.0 162.3L603.0 162.0L604.0 161.9L605.0 162.7L606.0 162.1L607.0 162.0L608.0 162.2L609.0 162.2L610.0 162.2L611.0 162.5L612.0 162.9L612.0 181.0L611.0 180.1L610.0 180.1L609.0 180.4L608.0 180.5L607.0 180.4L606.0 180.5L605.0 180.3L604.0 180.1L603.0 180.4L602.0 179.7L601.0 179.5L600.0 180.1L599.0 180.1L598.0 179.7L597.0 179.6L596.0 179.6L595.0 180.0L594.0 179.8L593.0 179.1L592.0 179.0L591.0 179.2L590.0 179.5L589.0 178.8L588.0 179.6L587.0 179.5L586.0 179.0L585.0 178.7L584.0 179.0L583.0 179.0L582.0 178.8L581.0 179.1L580.0 179.0L579.0 178.9L578.0 178.5L577.0 178.8L576.0 178.1L575.0 178.6L574.0 178.2L573.0 178.3L572.0 177.8L571.0 177.8L570.0 177.7L569.0 178.4L568.0 178.1L567.0 177.2L566.0 177.2L565.0 177.1L564.0 177.7L563.0 177.1L562.0 176.9L561.0 177.0L560.0 177.0L559.0 176.8L558.0 176.8L557.0 176.4L556.0 176.6L555.0 176.4L554.0 176.1L553.0 176.3L552.0 176.1L551.0 175.7L550.0 175.4L549.0 176.0L548.0 175.6L547.0 174.9L546.0 175.5L545.0 175.4L544.0 175.0L543.0 174.4L542.0 174.7L541.0 174.2L540.0 174.8L539.0 174.0L538.0 174.2L537.0 173.9L536.0 173.8L535.0 174.0L534.0 173.1L533.0 173.6L532.0 173.4L531.0 173.1L530.0 172.7L529.0 173.0L528.0 172.6L527.0 172.4L526.0 172.4L525.0 172.7L524.0 171.8L523.0 171.7L522.0 172.4L521.0 172.2L520.0 172.0L519.0 171.0L518.0 171.4L517.0 170.8L516.0 170.7L515.0 170.7L514.0 170.5L513.0 170.5L512.0 169.9L511.0 169.2L510.0 169.4L509.0 169.4L508.0 168.9L507.0 168.7L506.0 168.0L505.0 168.1L504.0 167.7L503.0 167.3L502.0 167.2L501.0 167.0L500.0 166.4L499.0 165.9L498.0 165.6L497.0 165.3L496.0 164.5L495.0 163.7L494.0 164.3L493.0 163.5L492.0 163.4L491.0 162.6L490.0 161.9L489.0 161.9L488.0 161.8L487.0 161.1L486.0 160.9L485.0 160.2L484.0 159.7L483.0 159.7L482.0 158.7L481.0 158.3L480.0 158.0L479.0 157.0L478.0 157.0L477.0 156.0L476.0 155.1L475.0 154.4L474.0 154.4L473.0 153.9L472.0 152.6L471.0 150.9L470.0 150.3L469.0 148.7L468.0 148.3L467.0 146.8L466.0 145.2L465.0 144.8L464.0 143.4L463.0 141.4L462.0 139.4L461.0 137.3Z"/></g><g fill="none" stroke="#7e1838" stroke-width="1.4" stroke-linecap="round" stroke-opacity="0.75"><path d="M98.8 164.7L98.7 162.6M101.5 164.7L101.3 161.5M103.9 164.7L104.0 160.8M106.7 164.7L106.4 162.6M108.6 164.7L108.9 162.4M110.0 164.7L109.8 162.0M112.9 164.7L112.7 162.6M114.6 164.7L114.6 162.2M117.9 164.7L117.8 162.2M121.2 164.7L121.0 161.2M124.6 164.7L124.4 161.0M127.5 164.7L127.3 162.3M130.0 164.7L130.0 161.7M132.7 164.7L132.9 162.3M134.8 164.7L134.8 160.9M137.0 164.7L136.9 162.4M139.3 164.7L139.3 161.5M140.8 164.7L140.5 161.0M144.2 164.7L144.4 161.1M147.1 164.7L147.1 162.4M149.6 164.7L149.5 161.4M152.6 164.7L152.5 162.3M155.3 164.7L155.1 161.8M159.0 164.7L159.2 161.3M161.3 164.7L161.5 160.8M165.0 164.7L165.0 162.3M167.3 164.7L167.2 161.5M169.0 164.7L169.1 161.7M171.3 164.7L171.3 160.7M173.4 164.7L173.4 161.1M175.5 164.7L175.8 162.1M179.2 164.7L179.1 161.4M182.3 164.7L182.2 162.3M185.0 164.7L184.9 161.9M188.7 164.7L188.8 162.4M190.2 164.7L190.0 162.5M194.0 164.7L194.2 161.2M195.5 164.7L195.5 161.3M197.9 164.7L197.8 161.3M200.5 164.7L200.5 162.2M203.2 164.7L203.1 162.4M205.6 164.7L205.8 161.8M208.6 164.7L208.8 161.6M210.5 164.7L210.4 162.5M212.2 164.7L212.3 161.6M214.0 164.7L214.0 161.3M216.4 164.7L216.6 160.9M218.3 164.7L218.6 162.4M220.1 164.7L220.0 161.2M222.4 164.7L222.7 161.6M223.8 164.7L224.0 162.4M226.2 164.7L226.5 162.1M228.2 164.7L228.5 161.3M231.4 164.7L231.6 161.3M234.8 164.7L234.8 162.2M238.1 164.7L238.3 160.9M241.6 164.7L241.5 162.5M244.1 164.7L244.1 160.9M246.2 164.7L246.0 162.7M249.4 164.7L249.2 162.7M98.3 179.7L98.5 182.4M100.2 179.7L100.4 182.8M103.8 179.7L103.6 183.4M107.1 179.7L107.1 183.1M108.6 179.7L108.7 182.0M110.2 179.7L110.1 182.3M113.4 179.7L113.1 182.4M115.7 179.7L115.8 182.4M117.9 179.7L117.9 183.1M121.4 179.7L121.3 183.2M123.9 179.7L124.2 182.6M125.7 179.7L125.7 182.5M128.1 179.7L128.1 182.9M130.5 179.7L130.4 183.1M133.4 179.7L133.2 183.2M135.6 179.7L135.9 183.6M139.3 179.7L139.5 181.8M143.0 179.7L143.1 183.5M146.0 179.7L146.0 183.1M149.2 179.7L149.1 182.7M150.9 179.7L151.0 183.5M152.7 179.7L152.6 183.3M155.7 179.7L155.5 182.4M157.5 179.7L157.2 181.8M159.1 179.7L159.3 181.9M161.7 179.7L161.7 182.0M164.4 179.7L164.3 182.7M166.9 179.7L166.8 183.4M169.5 179.7L169.3 183.6M172.6 179.7L172.8 182.7M174.9 179.7L174.8 182.8M178.3 179.7L178.4 183.5M182.1 179.7L182.3 183.2M185.6 179.7L185.9 182.2M187.9 179.7L187.7 182.7M191.3 179.7L191.4 182.4M193.2 179.7L193.2 182.4M195.2 179.7L195.4 181.8M198.9 179.7L198.7 182.2M201.1 179.7L201.2 181.9M203.4 179.7L203.6 182.8M206.8 179.7L207.1 183.5M209.7 179.7L209.4 182.7M211.3 179.7L211.5 182.7M213.8 179.7L213.6 181.7M217.0 179.7L216.8 182.0M219.1 179.7L219.3 182.9M221.0 179.7L221.0 182.9M223.5 179.7L223.7 182.9M225.4 179.7L225.2 182.7M228.1 179.7L228.4 183.3M230.6 179.7L230.7 182.3M232.9 179.7L232.9 181.9M236.2 179.7L236.5 183.5M238.5 179.7L238.3 182.2M240.9 179.7L240.8 183.3M244.4 179.7L244.2 183.1M247.3 179.7L247.5 183.3M249.1 179.7L249.2 183.3"/><path d="M254.8 210.1L254.9 207.3M256.9 207.5L256.8 204.9M258.8 205.2L258.6 202.3M262.4 201.6L262.1 198.3M264.3 199.7L264.2 196.1M266.3 198.0L266.4 195.9M269.1 195.7L268.9 192.1M272.3 193.2L272.5 189.5M275.4 191.6L275.2 188.7M278.4 190.4L278.1 188.3M280.8 189.5L280.7 187.3M284.2 188.3L284.4 185.9M288.0 186.9L287.9 184.8M291.0 185.8L290.9 182.3M294.4 184.6L294.2 181.8M297.0 183.7L297.2 180.4M300.0 182.7L300.0 180.5M302.2 182.0L301.9 178.6M305.2 181.4L304.9 177.9M306.7 181.2L306.9 177.4M308.5 180.9L308.4 177.0M311.1 180.4L311.0 177.5M314.6 179.8L314.9 176.6M317.5 179.4L317.5 175.6M320.1 179.0L319.8 175.9M323.3 178.5L323.6 176.2M324.8 178.3L325.0 174.9M327.5 177.9L327.7 175.7M329.7 177.5L329.8 175.0M333.4 177.1L333.4 174.9M336.4 176.7L336.7 174.2M339.3 176.4L339.1 174.2M341.0 176.2L341.3 173.3M342.7 176.0L342.5 173.7M345.5 175.6L345.4 172.8M347.3 175.4L347.2 171.8M350.7 175.1L350.7 173.0M353.0 174.9L353.1 171.3M355.7 174.8L355.8 172.5M359.2 174.6L359.5 171.0M362.0 174.5L361.8 171.8M365.3 174.3L365.4 170.6M368.6 174.1L368.8 171.1M371.6 173.9L371.7 171.4M374.6 173.8L374.8 171.4M377.9 173.6L377.7 171.3M379.3 173.5L379.1 169.6M382.7 173.3L382.4 170.3M384.6 173.2L384.8 170.7M386.9 173.1L387.2 170.8M389.6 173.0L389.8 170.8M392.6 172.9L392.4 170.0M395.6 172.7L395.9 170.5M398.8 172.6L399.0 169.2M402.3 172.5L402.4 169.5M403.9 172.4L404.1 169.0M405.9 172.3L406.1 170.1M409.4 172.2L409.4 170.0M411.2 172.1L411.5 169.7M414.2 172.0L414.1 168.5M417.5 171.9L417.4 168.6M420.1 171.8L420.1 169.3M421.9 171.7L422.1 168.8M424.9 171.6L424.7 168.4M428.2 171.5L428.5 168.2M431.9 171.4L431.9 167.5M435.1 171.3L434.8 169.1M438.4 171.2L438.6 167.8M440.5 171.1L440.7 168.1M443.4 171.0L443.3 167.3M446.8 170.9L447.0 167.2M449.1 170.8L449.0 167.0M451.9 170.7L452.0 166.8M454.8 170.6L454.8 167.9M457.3 170.5L457.4 167.2M253.8 230.0L253.9 234.0M255.6 228.9L255.7 231.6M257.6 227.7L257.6 231.5M260.6 224.3L260.4 227.6M264.2 219.9L264.0 223.6M267.0 217.3L266.9 220.3M269.3 215.3L269.4 217.8M271.7 213.2L271.6 215.4M273.5 212.0L273.6 215.3M275.9 210.9L276.0 214.0M277.8 210.1L278.1 212.2M279.7 209.3L279.8 211.8M283.4 207.9L283.4 210.1M286.9 206.5L286.7 208.7M289.7 205.4L289.5 209.0M292.1 204.4L292.1 207.6M294.8 203.4L295.1 207.4M296.7 203.0L296.7 205.5M298.4 202.6L298.4 204.9M302.1 201.8L302.0 204.3M305.0 201.1L304.7 203.7M306.7 200.7L306.4 204.4M309.6 200.0L309.7 202.8M312.2 199.3L312.0 201.8M314.2 198.9L314.0 201.4M316.3 198.6L316.3 201.7M317.9 198.3L318.2 201.1M321.5 197.6L321.3 200.2M323.7 197.2L323.5 199.4M327.2 196.5L327.2 200.3M330.0 196.0L330.1 199.4M333.0 195.7L333.1 199.2M334.8 195.5L334.9 198.9M336.6 195.3L336.6 197.7M338.9 195.1L338.8 198.7M341.9 194.8L341.7 198.0M344.0 194.6L343.9 197.3M345.6 194.4L345.6 196.9M347.6 194.2L347.5 197.5M350.1 194.0L350.2 196.4M351.7 193.9L351.7 197.8M355.3 193.8L355.2 196.9M357.6 193.6L357.6 197.5M360.0 193.5L359.8 195.8M362.4 193.4L362.6 196.3M364.1 193.3L363.9 196.3M366.1 193.3L366.3 196.2M367.9 193.2L368.0 195.5M370.5 193.0L370.6 195.2M374.2 192.9L374.5 196.4M377.4 192.7L377.5 195.4M380.1 192.6L380.0 194.8M383.8 192.4L383.7 195.7M386.8 192.3L386.6 195.7M389.4 192.2L389.1 195.8M392.1 192.0L391.9 194.3M395.3 191.9L395.5 194.6M398.4 191.7L398.2 195.0M400.9 191.6L401.0 195.3M402.5 191.5L402.5 194.5M405.1 191.4L405.3 194.2M407.7 191.2L408.0 194.9M411.3 191.0L411.0 194.6M412.7 191.0L412.7 193.3M414.8 190.9L415.1 193.1M417.3 190.7L417.3 193.1M421.0 190.5L421.3 194.0M422.7 190.5L422.6 193.9M425.0 190.3L424.9 193.3M428.3 190.2L428.2 192.8M430.7 190.1L430.7 193.4M432.2 190.1L432.3 193.8M434.0 190.1L434.3 193.0M437.5 190.0L437.4 192.8M441.2 189.9L441.3 193.4M443.6 189.8L443.4 193.6M446.9 189.8L446.9 193.4M449.2 189.7L449.1 193.1M451.6 189.7L451.8 192.2M453.4 189.6L453.4 192.6M457.1 189.5L457.2 191.8"/><path d="M461.5 103.3L461.7 100.1M463.5 116.3L463.4 114.3M465.7 121.9L465.6 119.0M469.3 127.9L469.6 125.7M470.9 129.7L470.8 126.0M474.0 133.2L474.0 131.2M477.0 135.7L477.2 132.5M478.8 137.1L478.9 134.4M480.3 138.3L480.2 134.8M482.3 139.9L482.4 137.5M483.8 141.0L483.7 138.5M485.9 142.1L485.9 138.8M489.4 144.1L489.3 140.8M491.6 145.3L491.5 143.0M494.5 146.5L494.3 143.2M496.7 147.4L497.0 143.9M498.3 148.0L498.5 145.9M500.9 149.0L501.0 146.2M504.1 150.2L504.4 148.1M507.8 151.7L507.8 148.9M509.9 152.5L509.7 149.4M512.5 153.2L512.5 149.6M515.9 154.0L516.1 151.7M517.6 154.4L517.8 152.0M519.8 154.9L519.5 152.6M523.0 155.5L522.8 153.4M526.7 156.1L526.6 152.7M528.6 156.4L528.7 152.8M531.6 156.9L531.6 154.0M535.3 157.5L535.0 154.6M536.9 157.8L537.0 154.7M539.8 158.3L539.7 155.0M542.1 158.7L542.0 156.2M544.1 159.0L543.9 155.5M546.1 159.3L546.0 156.1M548.3 159.7L548.5 156.0M550.2 160.0L550.2 157.7M553.0 160.3L553.1 157.7M556.0 160.6L555.9 157.1M559.0 160.9L558.7 158.8M560.5 161.1L560.7 158.8M562.8 161.3L562.8 158.4M564.7 161.5L564.5 159.4M568.2 161.8L568.1 159.2M570.2 162.0L570.3 158.7M572.5 162.1L572.5 159.2M575.3 162.3L575.4 159.2M578.9 162.4L578.6 158.7M581.2 162.6L581.1 160.5M584.5 162.7L584.5 159.5M586.1 162.8L586.2 159.3M588.3 162.9L588.0 159.5M590.1 163.0L589.8 159.6M591.9 163.1L592.0 160.2M594.7 163.1L594.5 161.1M597.8 163.2L597.6 160.6M599.2 163.3L599.4 160.8M600.7 163.3L601.0 160.3M603.8 163.4L603.9 160.9M605.5 163.5L605.4 160.6M609.0 163.6L609.1 160.0M611.3 163.7L611.6 160.2M462.3 138.8L462.1 141.1M465.4 143.6L465.5 145.7M467.1 145.6L467.3 148.8M470.7 149.8L470.7 152.5M473.1 152.3L473.3 155.6M474.8 153.6L474.5 156.2M476.8 154.8L477.0 158.1M480.5 156.9L480.4 159.0M484.0 158.7L483.9 161.6M487.2 160.0L487.0 163.5M489.9 161.0L489.7 163.3M492.5 162.1L492.7 164.5M494.8 163.0L494.9 165.3M496.9 163.8L497.2 165.9M498.7 164.5L498.7 166.8M500.2 165.1L499.9 168.5M501.7 165.7L501.7 169.4M505.3 166.8L505.4 170.4M506.8 167.2L506.5 170.4M508.3 167.7L508.1 171.2M511.4 168.6L511.6 171.5M514.4 169.2L514.3 173.0M517.8 169.9L517.8 173.4M520.4 170.5L520.5 173.3M522.3 170.8L522.4 173.5M524.4 171.1L524.2 173.4M527.7 171.5L528.0 175.1M530.8 171.9L530.6 175.0M534.3 172.4L534.4 175.3M536.0 172.6L535.8 176.0M539.7 173.1L539.7 176.4M542.7 173.5L542.7 175.9M544.3 173.7L544.2 176.2M546.1 174.0L545.9 176.7M547.6 174.2L547.9 176.8M550.7 174.6L550.6 177.4M552.5 174.8L552.5 177.5M555.8 175.2L556.0 178.0M559.1 175.6L559.0 179.1M561.7 175.8L561.7 178.1M563.2 176.0L563.0 178.9M565.7 176.3L565.4 178.6M568.2 176.6L568.2 179.4M569.9 176.8L569.8 179.7M571.5 176.9L571.6 179.6M573.6 177.0L573.8 180.3M575.1 177.1L575.0 179.5M577.9 177.3L578.0 180.2M579.5 177.4L579.3 179.9M582.7 177.6L582.6 180.9M586.2 177.9L585.9 180.1M588.5 178.0L588.8 181.2M591.1 178.2L591.2 180.4M592.6 178.2L592.5 181.7M594.2 178.3L594.4 180.6M597.8 178.5L598.1 180.9M601.2 178.7L601.0 181.3M603.0 178.8L602.8 181.6M604.9 178.9L605.1 181.4M606.4 179.0L606.4 182.7M609.5 179.2L609.8 182.1M611.4 179.3L611.4 181.7"/></g><path d="M249 163 L251.2 163 L253.2 270 L251.6 270 Z" fill="#7e1838"/><path d="M250.5 224 L254 210 L254 234 L252 240 Z" fill="#b51b49"/><path d="M458.2 193 L458.6 88 L461 87.5 L462.5 116 L461.5 140 L460 193 Z" fill="#b51b49"/><path d="M458.2 193 L459.6 87.5 L461 87.5 L459.6 193 Z" fill="#7e1838"/><path d="M97 436.4 L249.9 436.4 L251 337.6 L456.8 337.2 L457.9 435.9 L611 436.0" fill="none" stroke="#daf7fb" stroke-width="6" stroke-linejoin="round"/><path d="M97 436.4 L249.9 436.4 L251 337.6 L456.8 337.2 L457.9 435.9 L611 436.0" fill="none" stroke="#208bb6" stroke-width="2.1" stroke-linejoin="round"/><path d="M251 337.6 L456.8 337.2" fill="none" stroke="#208bb6" stroke-width="2.7"/><rect x="96" y="74" width="517" height="414" fill="none" stroke="#1e1e1e" stroke-width="2"/><g font-family="Liberation Sans, sans-serif" font-weight="bold" fill="#1c1c1c" stroke="#1c1c1c" stroke-width="0.45" stroke-linejoin="round"><text x="95.40" y="14.80" font-size="15.90" textLength="69.35" lengthAdjust="spacingAndGlyphs">Non-AVP</text><text x="96.00" y="35.60" font-size="16.10" textLength="158.42" lengthAdjust="spacingAndGlyphs">75% (19 A) Load Step</text><text x="95.00" y="56.30" font-size="16.10" textLength="98.42" lengthAdjust="spacingAndGlyphs">12 V<tspan font-size="14.2" dy="4.1">IN</tspan><tspan dy="-4.1">, 1 V</tspan><tspan font-size="14.2" dy="4.1">OUT</tspan></text><text x="6.10" y="163.30" font-size="16.20" textLength="73.01" lengthAdjust="spacingAndGlyphs">V<tspan font-size="14.2" dy="4.7">OUT</tspan><tspan dy="-4.7"> (AC)</tspan></text><text x="4.10" y="184.00" font-size="16.30" textLength="76.65" lengthAdjust="spacingAndGlyphs">40 mV/div</text><text x="3.40" y="429.50" font-size="16.20" textLength="77.44" lengthAdjust="spacingAndGlyphs">Load Step</text><text x="11.80" y="449.90" font-size="16.20" textLength="60.49" lengthAdjust="spacingAndGlyphs">10 A/div</text><text x="315.80" y="527.60" font-size="16.20" textLength="77.36" lengthAdjust="spacingAndGlyphs">100 µs/div</text></g></svg></body></html>
